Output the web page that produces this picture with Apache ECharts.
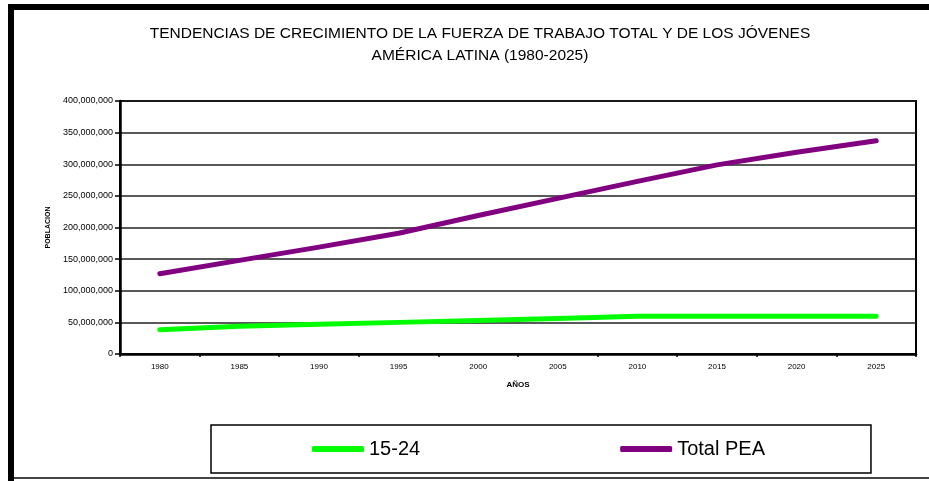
<!DOCTYPE html>
<html>
<head>
<meta charset="utf-8">
<script src="https://cdn.jsdelivr.net/npm/echarts@6/dist/echarts.min.js"></script>
<style>
html,body{margin:0;padding:0;background:#fff;}
#chart{width:929px;height:481px;}
</style>
</head>
<body>
<div id="chart"></div>
<script>
const years = ['1980','1985','1990','1995','2000','2005','2010','2015','2020','2025'];
const youth = [38500000, 44000000, 47000000, 50000000, 53000000, 56000000, 59500000, 59500000, 59500000, 59500000];
const totalPEA = [127000000, 148000000, 169000000, 191000000, 219000000, 246000000, 273000000, 299000000, 319000000, 337000000];
const seriesNames = ['15-24', 'Total PEA'];
const titleLines = ['TENDENCIAS DE CRECIMIENTO DE LA FUERZA DE TRABAJO TOTAL Y DE LOS JÓVENES', 'AMÉRICA LATINA (1980-2025)'];
const yAxisName = 'POBLACION';
const xAxisName = 'AÑOS';

const chart = echarts.init(document.getElementById('chart'), null, {renderer:'canvas'});
const font = 'Arial, "Liberation Sans", sans-serif';
chart.setOption({
  animation: false,
  backgroundColor: '#fff',
  textStyle: {fontFamily: font},
  title: {
    text: titleLines.join('\n'),
    left: 475,
    top: 18,
    textAlign: 'center',
    textStyle: {fontSize: 15.5, fontWeight: 'normal', color: '#000', lineHeight: 22, fontFamily: font}
  },
  graphic: [
    {type:'rect', shape:{x:8, y:4, width:6, height:477}, style:{fill:'#000'}, silent:true},
    {type:'rect', shape:{x:8, y:4, width:921, height:6}, style:{fill:'#000'}, silent:true},
    {type:'rect', shape:{x:14, y:477, width:915, height:2}, style:{fill:'#444'}, silent:true}
  ],
  grid: {
    left: 120, right: 13, top: 101, bottom: 127,
    show: true, borderColor: '#000', borderWidth: 2, backgroundColor: 'transparent'
  },
  legend: {
    data: seriesNames,
    left: 211, top: 425,
    orient: 'horizontal',
    padding: [14, 106, 14, 101],
    itemGap: 200,
    itemWidth: 52, itemHeight: 6,
    icon: 'roundRect',
    borderColor: '#000', borderWidth: 1.5,
    textStyle: {fontSize: 20, color: '#000', fontFamily: font}
  },
  xAxis: {
    type: 'category',
    data: years,
    boundaryGap: true,
    name: xAxisName,
    nameLocation: 'middle',
    nameGap: 27,
    nameTextStyle: {fontSize: 8, fontWeight: 'bold', color: '#000', fontFamily: font},
    axisLine: {lineStyle: {color: '#000', width: 2.5}},
    axisTick: {show: true, length: 3, lineStyle: {color: '#000', width: 1.5}},
    axisLabel: {fontSize: 8, color: '#000', margin: 9},
    splitLine: {show: false}
  },
  yAxis: {
    type: 'value',
    min: 0, max: 400000000, interval: 50000000,
    name: yAxisName,
    nameLocation: 'middle',
    nameGap: 66,
    nameRotate: 90,
    nameTextStyle: {fontSize: 7, fontWeight: 'bold', color: '#000', fontFamily: font},
    axisLine: {show: true, lineStyle: {color: '#000', width: 2.5}},
    axisTick: {show: true, length: 5, lineStyle: {color: '#000', width: 1.5}},
    axisLabel: {
      fontSize: 9, color: '#000', margin: 7,
      formatter: v => v.toLocaleString('en-US')
    },
    splitLine: {show: true, lineStyle: {color: '#222', width: 1.5}}
  },
  series: [
    {
      name: seriesNames[0], type: 'line', data: youth,
      showSymbol: false, symbol: 'none',
      lineStyle: {color: '#00FF00', width: 5, cap: 'round', join: 'round'},
      itemStyle: {color: '#00FF00'}
    },
    {
      name: seriesNames[1], type: 'line', data: totalPEA,
      showSymbol: false, symbol: 'none',
      lineStyle: {color: '#800080', width: 5, cap: 'round', join: 'round'},
      itemStyle: {color: '#800080'}
    }
  ]
});
</script>
</body>
</html>
